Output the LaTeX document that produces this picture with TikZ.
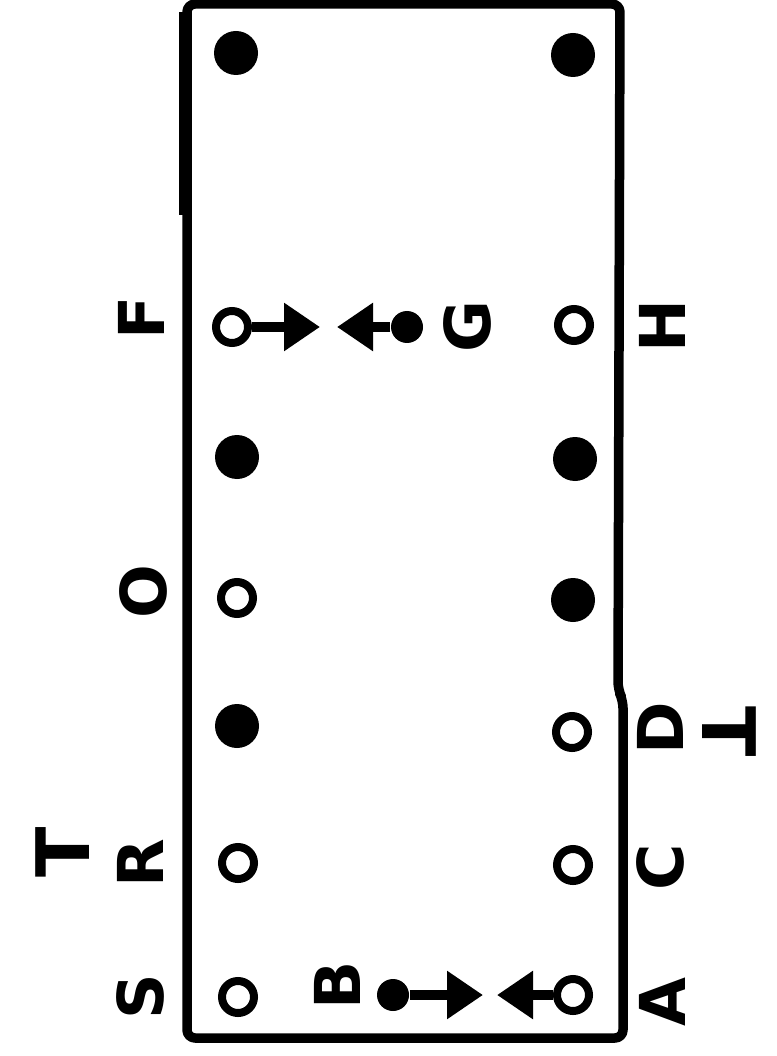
\documentclass[tikz,border=0pt]{standalone}
\usepackage{fontspec}
\setmainfont{DejaVu Sans}
\usetikzlibrary{arrows.meta}
\begin{document}
\begin{tikzpicture}[x=0.1mm,y=-0.1mm,
  pinopen/.style={circle,draw,line width=0.8mm,minimum size=3.2mm,inner sep=0pt},
  pinfill/.style={circle,fill,minimum size=4.4mm,inner sep=0pt},
  smalldot/.style={circle,fill,minimum size=3.2mm,inner sep=0pt},
  lbl/.style={font=\bfseries\fontsize{18}{18}\selectfont,rotate=90,inner sep=0pt},
  lblcw/.style={font=\bfseries\fontsize{21}{21}\selectfont,rotate=-90,inner sep=0pt},
  wire/.style={line width=1mm,-{Triangle[length=3.6mm,width=4.6mm]}},
  boxline/.style={line width=0.95mm,line join=round,rounded corners=0.8mm}]
\useasboundingbox (0,0) rectangle (777,1056);
% outline of the chip
\draw[boxline] (187,1038) -- (187,4) -- (620,4) -- (618,690) -- (623,700) -- (623,1038) -- cycle;
\draw[line width=0.5mm] (181,12) -- (181,215);
% row 1
\node[pinfill] (p1l) at (236,53) {};
\node[pinfill] (p1r) at (573,55) {};
% row 2
\node[pinopen] (p2l) at (232,327) {};
\node[pinopen] (p2r) at (574,325) {};
\node[smalldot] (gdot) at (407,327) {};
\coordinate (fa) at (320,327);
\coordinate (ga) at (337,327);
\draw[wire] (p2l) -- (fa);
\draw[wire] (gdot) -- (ga);
% row 3
\node[pinfill] (p3l) at (237,457) {};
\node[pinfill] (p3r) at (575,459) {};
% row 4
\node[pinopen] (p4l) at (237,598) {};
\node[pinfill] (p4r) at (573,600) {};
% row 5
\node[pinfill] (p5l) at (237,726) {};
\node[pinopen] (p5r) at (572,732) {};
% row 6
\node[pinopen] (p6l) at (238,863) {};
\node[pinopen] (p6r) at (573,865) {};
% row 7
\node[pinopen] (p7l) at (238,997) {};
\node[pinopen] (p7r) at (573,995) {};
\node[smalldot] (bdot) at (393,995) {};
\coordinate (ba) at (483,995);
\coordinate (aa) at (497,995);
\draw[wire] (bdot) -- (ba);
\draw[wire] (p7r) -- (aa);
% labels
\node[lbl] (lF) at (141,318) {F};
\node[lbl] (lG) at (467,327) {G};
\node[lbl] (lH) at (662,326) {H};
\node[lbl] (lO) at (143,592) {O};
\node[lbl] (lD) at (660,728) {D};
\node[lblcw] (lT2) at (729,732) {T};
\node[lbl] (lR) at (140,863) {R};
\node[lbl,font=\bfseries\fontsize{21}{21}\selectfont] (lT1) at (63,852) {T};
\node[lbl] (lC) at (660,867) {C};
\node[lbl] (lS) at (140,997) {S};
\node[lbl] (lB) at (337,985) {B};
\node[lbl] (lA) at (662,1002) {A};
\end{tikzpicture}
\end{document}
